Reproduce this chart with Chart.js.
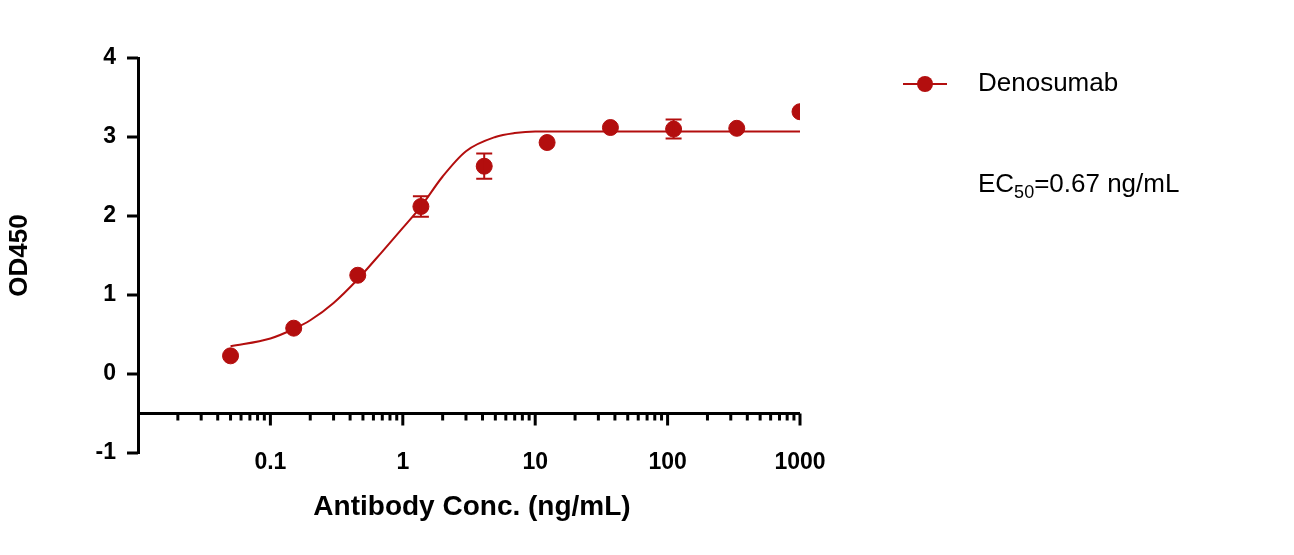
<!DOCTYPE html><html><head><style>body{margin:0;background:#fff}</style>
<script src="https://cdn.jsdelivr.net/npm/chart.js@4"></script></head><body>
<canvas id="c" width="1294" height="555" style="width:1294px;height:555px"></canvas>
<script>
const conc=[0.05,0.15,0.457,1.37,4.12,12.3,37,111,333,1000];
const od=[0.23,0.58,1.25,2.12,2.63,2.93,3.12,3.10,3.11,3.32];
const err=[0,0,0,0.13,0.16,0,0,0.12,0,0];
const fitX=[0.05,0.1,0.15,0.2,0.3,0.457,0.7,1,1.37,2,3,5,7,10,30,1000];
const fitY=[0.35,0.45,0.57,0.68,0.9,1.2,1.55,1.85,2.12,2.5,2.82,3.0,3.05,3.07,3.07,3.07];
const yTicks=[-1,0,1,2,3,4];
const xLabels=[0.1,1,10,100,1000];
const col='#b30e0e';
const F='"Liberation Sans",Arial,sans-serif';
const extra={id:'extra',afterDraw(ch){
 const c=ch.ctx,x=ch.scales.x,y=ch.scales.y;
 c.save();c.strokeStyle=col;c.lineWidth=2;
 conc.forEach((v,i)=>{if(!err[i])return;const px=x.getPixelForValue(v),t=y.getPixelForValue(od[i]+err[i]),b=y.getPixelForValue(od[i]-err[i]);
  c.beginPath();c.moveTo(px,t);c.lineTo(px,b);c.moveTo(px-8,t);c.lineTo(px+8,t);c.moveTo(px-8,b);c.lineTo(px+8,b);c.stroke();});
 c.strokeStyle='#000';c.lineWidth=3;const ay=y.getPixelForValue(-0.5);
 c.beginPath();c.moveTo(y.right-1,ay);c.lineTo(x.right,ay);c.stroke();
 for(let d=-2;d<=2;d++)for(let m=1;m<10;m++){const v=m*Math.pow(10,d);if(v<0.01||v>1000)continue;const px=x.getPixelForValue(v);
  if(px<=x.left+2)continue;c.beginPath();c.moveTo(px,ay);c.lineTo(px,ay+(m==1?12:7));c.stroke();}
 {const px=x.getPixelForValue(1000);c.beginPath();c.moveTo(px,ay);c.lineTo(px,ay+12);c.stroke();}
 c.fillStyle='#000';c.font='bold 23px '+F;c.textAlign='center';c.textBaseline='middle';
 xLabels.forEach(v=>c.fillText(String(v),x.getPixelForValue(v),463));
 c.font='bold 28px '+F;c.fillText('Antibody Conc. (ng/mL)',472,507);
 c.strokeStyle=col;c.lineWidth=2;c.beginPath();c.moveTo(903,84);c.lineTo(947,84);c.stroke();
 c.fillStyle=col;c.beginPath();c.arc(925,84,8,0,7);c.fill();
 c.fillStyle='#000';c.textAlign='left';c.font='26px '+F;c.fillText('Denosumab',978,84);
 c.fillText('EC',978,185);let w=c.measureText('EC').width;c.font='18px '+F;c.fillText('50',978+w,193);
 let w2=c.measureText('50').width;c.font='26px '+F;c.fillText('=0.67 ng/mL',978+w+w2,185);
 c.restore();}};
new Chart(document.getElementById('c'),{data:{datasets:[
 {type:'line',data:fitX.map((v,i)=>({x:v,y:fitY[i]})),borderColor:col,borderWidth:2,pointRadius:0,cubicInterpolationMode:'monotone'},
 {type:'scatter',data:conc.map((v,i)=>({x:v,y:od[i]})),backgroundColor:col,borderColor:col,pointRadius:8}]},
 options:{responsive:false,animation:false,devicePixelRatio:1,plugins:{legend:{display:false},tooltip:{enabled:false}},
 layout:{padding:{left:0,right:494,top:58,bottom:94}},
 scales:{x:{type:'logarithmic',min:0.01,max:1000,grid:{display:false},border:{display:false},ticks:{display:false}},
  y:{min:-1,max:4,afterFit(s){s.width=138;},afterBuildTicks(s){s.ticks=yTicks.map(v=>({value:v}));},
   grid:{display:false,drawOnChartArea:false},border:{display:true,color:'#000',width:3},
   ticks:{color:'#000',font:{family:F,size:23,weight:'bold'},padding:14,callback:v=>v},
   title:{display:true,text:'OD450',color:'#000',font:{family:F,size:26,weight:'bold'},padding:{bottom:12}}}}},
 plugins:[extra,{id:'yt',afterDraw(ch){const c=ch.ctx,y=ch.scales.y;c.save();c.strokeStyle='#000';c.lineWidth=3;
  yTicks.forEach(v=>{const p=y.getPixelForValue(v);c.beginPath();c.moveTo(y.right,p);c.lineTo(y.right-11,p);c.stroke();});c.restore();}}]});
</script></body></html>
